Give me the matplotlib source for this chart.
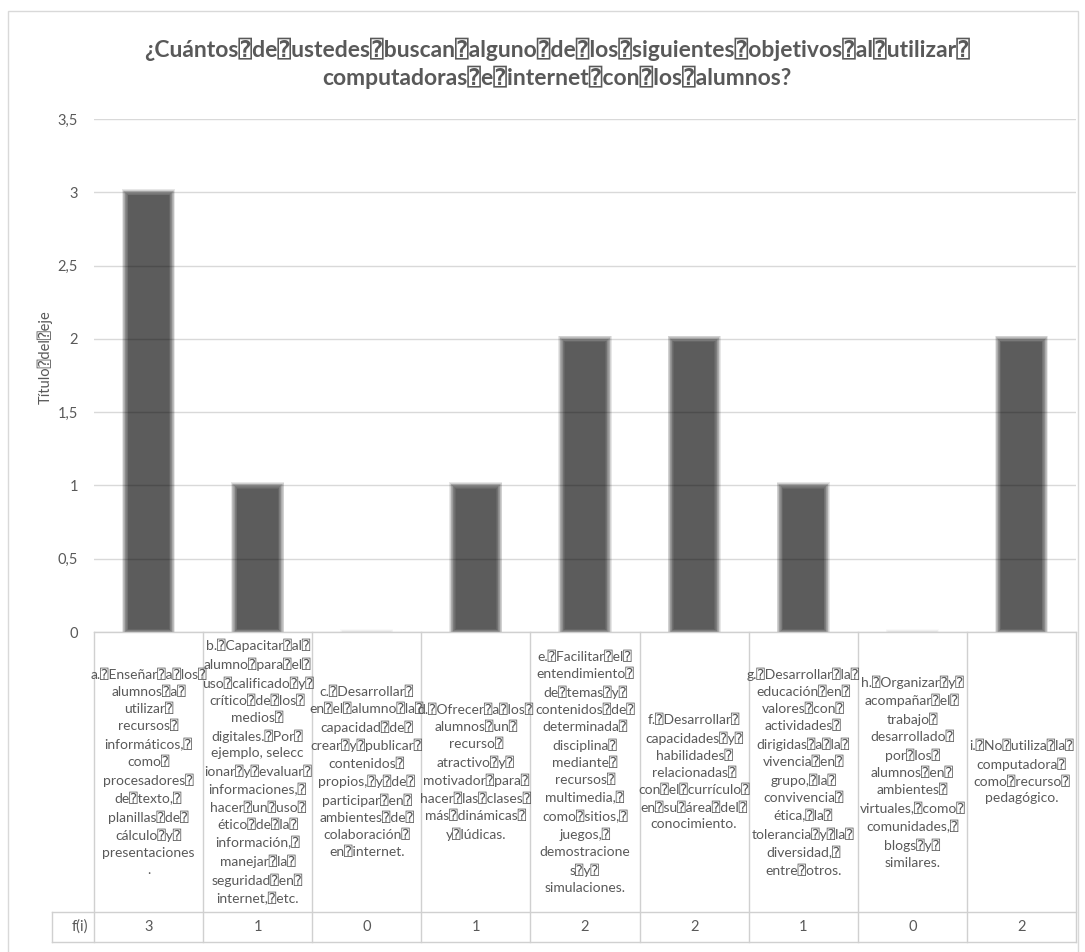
import matplotlib.pyplot as plt
from matplotlib.patches import Rectangle
from matplotlib.ticker import FuncFormatter

plt.rcParams['font.family'] = ['Lato', 'DejaVu Sans', 'DejaVu Sans Mono']

TITLE = ("¿Cuántos⍰de⍰ustedes⍰buscan⍰alguno⍰de⍰los⍰siguientes⍰objetivos⍰al⍰utilizar⍰\n"
         "computadoras⍰e⍰internet⍰con⍰los⍰alumnos?")
YLABEL = "Título⍰del⍰eje"
ROW_LABEL = "f(i)"

# one entry per objective, already wrapped to the cell width
objectives = [
    "a.⍰Enseñar⍰a⍰los⍰\nalumnos⍰a⍰\nutilizar⍰\nrecursos⍰\ninformáticos,⍰\ncomo⍰\nprocesadores⍰\n"
    "de⍰texto,⍰\nplanillas⍰de⍰\ncálculo⍰y⍰\npresentaciones\n.",
    "b.⍰Capacitar⍰al⍰\nalumno⍰para⍰el⍰\nuso⍰calificado⍰y⍰\ncrítico⍰de⍰los⍰\nmedios⍰\ndigitales.⍰Por⍰\n"
    "ejemplo, selecc\nionar⍰y⍰evaluar⍰\ninformaciones,⍰\nhacer⍰un⍰uso⍰\nético⍰de⍰la⍰\ninformación,⍰\n"
    "manejar⍰la⍰\nseguridad⍰en⍰\ninternet,⍰etc.",
    "c.⍰Desarrollar⍰\nen⍰el⍰alumno⍰la⍰\ncapacidad⍰de⍰\ncrear⍰y⍰publicar⍰\ncontenidos⍰\npropios,⍰y⍰de⍰\n"
    "participar⍰en⍰\nambientes⍰de⍰\ncolaboración⍰\nen⍰internet.",
    "d.⍰Ofrecer⍰a⍰los⍰\nalumnos⍰un⍰\nrecurso⍰\natractivo⍰y⍰\nmotivador⍰para⍰\nhacer⍰las⍰clases⍰\n"
    "más⍰dinámicas⍰\ny⍰lúdicas.",
    "e.⍰Facilitar⍰el⍰\nentendimiento⍰\nde⍰temas⍰y⍰\ncontenidos⍰de⍰\ndeterminada⍰\ndisciplina⍰\nmediante⍰\n"
    "recursos⍰\nmultimedia,⍰\ncomo⍰sitios,⍰\njuegos,⍰\ndemostracione\ns⍰y⍰\nsimulaciones.",
    "f.⍰Desarrollar⍰\ncapacidades⍰y⍰\nhabilidades⍰\nrelacionadas⍰\ncon⍰el⍰currículo⍰\nen⍰su⍰área⍰del⍰\n"
    "conocimiento.",
    "g.⍰Desarrollar⍰la⍰\neducación⍰en⍰\nvalores⍰con⍰\nactividades⍰\ndirigidas⍰a⍰la⍰\nvivencia⍰en⍰\n"
    "grupo,⍰la⍰\nconvivencia⍰\nética,⍰la⍰\ntolerancia⍰y⍰la⍰\ndiversidad,⍰\nentre⍰otros.",
    "h.⍰Organizar⍰y⍰\nacompañar⍰el⍰\ntrabajo⍰\ndesarrollado⍰\npor⍰los⍰\nalumnos⍰en⍰\nambientes⍰\n"
    "virtuales,⍰como⍰\ncomunidades,⍰\nblogs⍰y⍰\nsimilares.",
    "i.⍰No⍰utiliza⍰la⍰\ncomputadora⍰\ncomo⍰recurso⍰\npedagógico.",
]
counts = [3, 1, 0, 1, 2, 2, 1, 0, 2]
yticks = [0, 0.5, 1, 1.5, 2, 2.5, 3, 3.5]

TEXT = '#595959'
GRID = '#d9d9d9'
W, H = 1085, 952

fig = plt.figure(figsize=(W / 100, H / 100), dpi=100)

# plot area in pixels (left, top, right, bottom)
L, T, R, B = 94, 119, 1076, 632
ax = fig.add_axes([L / W, 1 - B / H, (R - L) / W, (B - T) / H])
n = len(counts)
ax.set_xlim(-0.5, n - 0.5)
ax.set_ylim(0, 3.5)
ax.set_yticks(yticks)
ax.yaxis.set_major_formatter(FuncFormatter(lambda v, p: f"{v:g}".replace('.', ',')))
ax.tick_params(axis='y', length=0, pad=11.5, labelsize=10.5, labelcolor=TEXT)
ax.set_xticks([])
ax.grid(axis='y', color=GRID, lw=1)
ax.set_axisbelow(True)
for s in ax.spines.values():
    s.set_visible(False)

# soft-edged bars: stack of translucent rectangles grown/shrunk by a few px
px_x = (R - L) / n
px_y = (B - T) / 3.5
bw = 0.43
layers = 10
for i, v in enumerate(counts):
    a = 0.095 if v > 0 else 0.02  # empty bars only leave a faint smudge
    for k in range(layers):
        e = (k - (layers - 1) / 2) * 0.7
        ex, ey = e / px_x, e / px_y
        h = v + 2 * ey
        if h <= 0:
            continue
        ax.add_patch(Rectangle((i - bw / 2 - ex, -ey), bw + 2 * ex, h,
                               fc='black', alpha=a, lw=0, zorder=2))

# data table under the axis
xt = ax.get_xaxis_transform()
row1 = -(912 - B) / (B - T)
row2 = -(942 - B) / (B - T)
left_cell = -0.5 - (L - 52) / px_x
line_kw = dict(color='#d0d0d0', lw=1, transform=xt, clip_on=False, zorder=3)
ax.plot([-0.5, n - 0.5], [0, 0], **line_kw)
ax.plot([left_cell, n - 0.5], [row1, row1], **line_kw)
ax.plot([left_cell, n - 0.5], [row2, row2], **line_kw)
ax.plot([left_cell, left_cell], [row1, row2], **line_kw)
for j in range(n + 1):
    ax.plot([j - 0.5, j - 0.5], [0, row2], **line_kw)

for i, (lab, v) in enumerate(zip(objectives, counts)):
    ax.text(i, row1 / 2, lab, transform=xt, ha='center', va='center', fontsize=10,
            color=TEXT, linespacing=1.47, clip_on=False)
    ax.text(i, (row1 + row2) / 2, str(v), transform=xt, ha='center', va='center',
            fontsize=10.5, color=TEXT, clip_on=False)
ax.text(-0.5 - 6 / px_x, (row1 + row2) / 2, ROW_LABEL,
        transform=xt, ha='right', va='center', fontsize=10.5, color=TEXT, clip_on=False)

fig.text(45 / W, 1 - 357 / H, YLABEL, rotation=90, ha='center', va='center',
         fontsize=10.5, color=TEXT)
fig.text(557 / W, 1 - 63 / H, TITLE, ha='center', va='center', fontsize=16.5,
         fontweight='bold', color=TEXT, linespacing=1.25)

# chart frame
fig.add_artist(Rectangle((8 / W, -0.01), (1078 - 8) / W, 1.01 - 11 / H, fill=False,
                         ec=GRID, lw=1, transform=fig.transFigure))

fig.savefig('out.png', dpi=100, facecolor='white')
